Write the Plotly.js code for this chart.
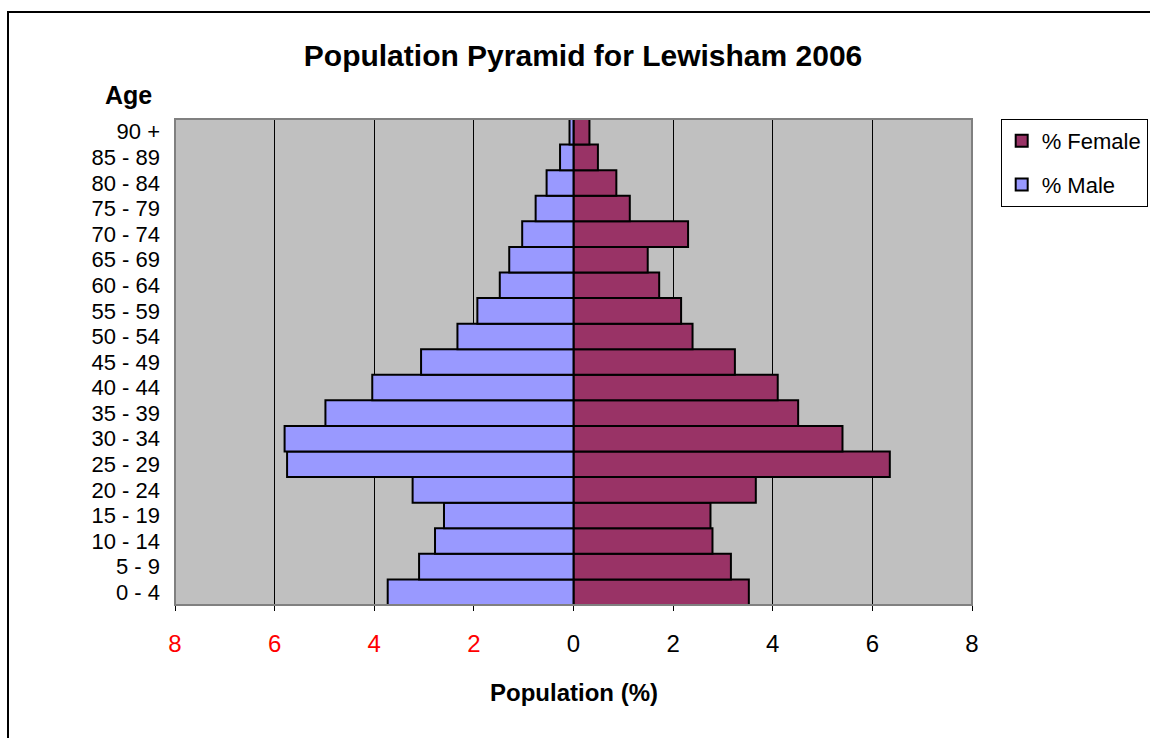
<!DOCTYPE html>
<html>
<head>
<meta charset="utf-8">
<script src="https://cdn.plot.ly/plotly-3.0.1.min.js"></script>
<style>
html,body{margin:0;padding:0;background:#fff;overflow:hidden;}
#frame{position:absolute;left:7px;top:11px;width:1200px;height:800px;border:2px solid #000;box-sizing:border-box;}
#chart{position:absolute;left:0;top:0;width:1150px;height:738px;}
</style>
</head>
<body>
<div id="frame"></div>
<div id="chart"></div>
<script>
const ageGroups = ["0 - 4","5 - 9","10 - 14","15 - 19","20 - 24","25 - 29","30 - 34","35 - 39","40 - 44","45 - 49","50 - 54","55 - 59","60 - 64","65 - 69","70 - 74","75 - 79","80 - 84","85 - 89","90 +"];
const malePct =   [3.73,3.10,2.78,2.60,3.23,5.75,5.80,4.98,4.04,3.06,2.33,1.93,1.48,1.29,1.03,0.76,0.54,0.27,0.08];
const femalePct = [3.52,3.16,2.79,2.75,3.66,6.35,5.40,4.51,4.10,3.24,2.39,2.16,1.72,1.49,2.30,1.13,0.86,0.49,0.32];
const xTickVals = [-8,-6,-4,-2,0,2,4,6,8];
const xTickText = ['<span style="color:#FF0000">8</span>','<span style="color:#FF0000">6</span>','<span style="color:#FF0000">4</span>','<span style="color:#FF0000">2</span>','0','2','4','6','8'];

const font = "Arial, 'Liberation Sans', sans-serif";
const traces = [
  {type:'bar', orientation:'h', name:'% Female', y:ageGroups, x:femalePct,
   marker:{color:'#993366', line:{color:'#000', width:2}}, legendgroup:'f'},
  {type:'bar', orientation:'h', name:'% Male', y:ageGroups, x:malePct.map(v=>-v),
   marker:{color:'#9999FF', line:{color:'#000', width:2}}, legendgroup:'m'}
];
const layout = {
  width:1150, height:738,
  margin:{l:175, r:178, t:119, b:133, autoexpand:false},
  paper_bgcolor:'rgba(0,0,0,0)', plot_bgcolor:'#C0C0C0',
  font:{family:font, size:22, color:'#000'},
  barmode:'relative', bargap:0,
  showlegend:true,
  title:{text:'<b>Population Pyramid for Lewisham 2006</b>', font:{size:30, family:font},
         xref:'container', x:0.507, xanchor:'center', yref:'container', y:1-55/738, yanchor:'middle'},
  xaxis:{range:[-8,8], tickmode:'array', tickvals:xTickVals, ticktext:xTickText, showgrid:true, gridcolor:'#000', gridwidth:1,
         zeroline:false, showline:true, linecolor:'#000', linewidth:1, ticks:'outside', ticklen:5, tickcolor:'#000',
         tickfont:{size:24}, ticklabelstandoff:12, automargin:false, fixedrange:true},
  yaxis:{type:'category', categoryorder:'array', categoryarray:ageGroups, tickmode:'array', tickvals:ageGroups, ticktext:ageGroups,
         showgrid:false, zeroline:false, showline:false, ticks:'', tickfont:{size:22}, ticklabelstandoff:14,
         automargin:false, fixedrange:true},
  legend:{x:1.036, xanchor:'left', y:1.0, yanchor:'top', bgcolor:'#fff', bordercolor:'#000', borderwidth:1,
          font:{size:22}, traceorder:'grouped', tracegroupgap:12, itemwidth:30},
  shapes:[{type:'rect', xref:'paper', yref:'paper', x0:0, x1:1, y0:0, y1:1, line:{color:'#808080', width:2}, layer:'above'}],
  annotations:[
    {text:'<b>Age</b>', xref:'paper', yref:'paper', x:(128-175)/797, y:1+(119-95)/486,
     showarrow:false, font:{size:25}, xanchor:'center', yanchor:'middle'},
    {text:'<b>Population (%)</b>', xref:'paper', yref:'paper', x:0.5, y:-(692-605)/486,
     showarrow:false, font:{size:24}, xanchor:'center', yanchor:'middle'}
  ]
};
Plotly.newPlot('chart', traces, layout, {displayModeBar:false, staticPlot:true});
</script>
</body>
</html>
